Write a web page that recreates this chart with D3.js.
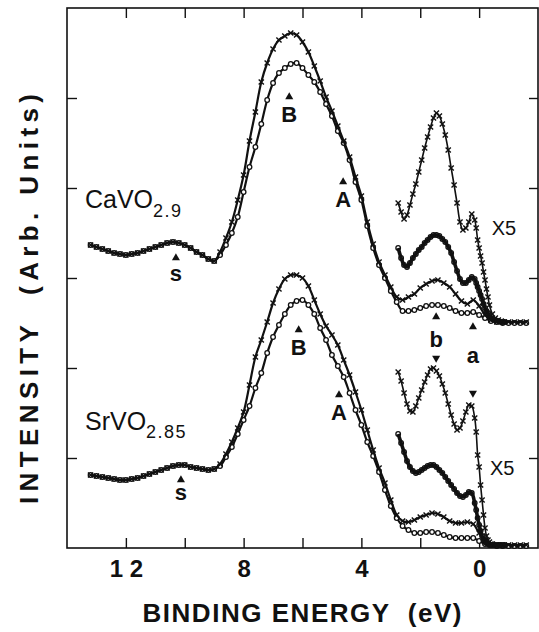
<!DOCTYPE html>
<html>
<head>
<meta charset="utf-8">
<script src="https://cdn.jsdelivr.net/npm/d3@7"></script>
<style>
  body { margin: 0; background: #fff; }
  svg { display: block; font-family: "Liberation Sans", Arial, Helvetica, sans-serif; }
</style>
</head>
<body>
<svg width="539" height="632"></svg>
<script>
// binding energy grid (eV) of the full spectra
const energy = [13.2, 13.0, 12.8, 12.6, 12.4, 12.2, 12.0, 11.8, 11.6, 11.4, 11.2, 11.0, 10.8, 10.6, 10.4, 10.2, 10.0, 9.8, 9.6, 9.4, 9.2, 9.0,
  8.8, 8.6, 8.4, 8.2, 8.0, 7.8, 7.6, 7.4, 7.2, 7.0, 6.8, 6.6, 6.4, 6.2, 6.0, 5.8, 5.6, 5.4, 5.2, 5.0,
  4.8, 4.6, 4.4, 4.2, 4.0, 3.8, 3.6, 3.4, 3.2, 3.0, 2.8, 2.6, 2.4, 2.2, 2.0, 1.8, 1.6, 1.4, 1.2, 1.0,
  0.8, 0.6, 0.4, 0.2, 0.0, -0.2, -0.4, -0.6, -0.8, -1.0, -1.2, -1.4, -1.6];

// CaVO2.9 (offset spectra, arb. units)
const caCross = [303, 301, 299, 297, 295, 294, 293, 294, 295, 297, 299, 301, 303, 305, 306, 305, 303, 300, 296, 293, 289, 287,
  296, 310, 326, 348, 373, 407, 436, 466, 485, 499, 508, 512, 515, 513, 506, 496, 482, 467, 451, 437,
  422, 407, 391, 371, 352, 326, 304, 286, 273, 261, 251, 248, 251, 254, 260, 264, 267, 268, 265, 261,
  254, 247, 244, 248, 242, 233, 228, 226, 226, 226, 226, 226, 226];
const caCircle = [303, 301, 299, 297, 295, 294, 293, 294, 295, 297, 299, 301, 303, 305, 306, 305, 303, 300, 296, 293, 289, 287,
  293, 303, 315, 331, 356, 381, 401, 424, 448, 465, 475, 480, 484, 485, 480, 473, 466, 456, 444, 432,
  417, 405, 388, 366, 348, 322, 300, 283, 270, 257, 246, 237, 237, 238, 240, 242, 243, 243, 242, 240,
  237, 235, 235, 236, 233, 230, 227, 226, 225, 225, 225, 225, 225];

// SrVO2.85
const srCross = [73, 72, 71, 70, 69, 68, 68, 69, 70, 72, 74, 76, 78, 80, 82, 83, 83, 81, 80, 79, 78, 79,
  84, 94, 106, 120, 136, 163, 191, 208, 226, 245, 259, 269, 273, 273, 270, 262, 248, 234, 222, 213,
  203, 188, 173, 156, 138, 118, 98, 80, 65, 48, 33, 27, 26, 28, 31, 33, 35, 34, 31, 27,
  25, 25, 26, 24, 15, 7, 4, 3, 3, 3, 3, 3, 3];
const srCircle = [73, 72, 71, 70, 69, 68, 68, 69, 70, 72, 74, 76, 78, 80, 82, 83, 83, 81, 80, 79, 78, 79,
  82, 91, 101, 114, 128, 142, 160, 175, 195, 211, 223, 234, 243, 247, 248, 243, 234, 220, 208, 193,
  182, 171, 155, 138, 123, 106, 92, 76, 58, 42, 30, 22, 18, 15, 15, 16, 16, 15, 13, 11,
  10, 10, 10, 10, 7, 4, 3, 2, 2, 2, 2, 2, 2];

// near-Fermi-level region, magnified x5
const energyX5 = [2.75, 2.65, 2.55, 2.45, 2.35, 2.25, 2.15, 2.05, 1.95, 1.85, 1.75, 1.65, 1.55, 1.45, 1.35, 1.25, 1.15, 1.05, 0.95, 0.85,
  0.75, 0.65, 0.55, 0.45, 0.35, 0.25, 0.15, 0.10, 0.05, 0.00, -0.05, -0.10, -0.15, -0.20, -0.25, -0.30, -0.35, -0.45, -0.55, -0.65, -0.75, -0.85];
const caCrossX5 = [345, 336, 329, 333, 343, 354, 364, 376, 388, 400, 411, 421, 430, 435, 432, 424, 413, 398, 380, 363,
  345, 326, 318, 320, 326, 334, 328, 320, 308, 300, 292, 285, 276, 268, 259, 251, 243, 234, 230, 228, 227, 226];
const caCircleX5 = [300, 290, 283, 281, 285, 290, 294, 298, 301, 305, 308, 311, 313, 313, 312, 309, 306, 301, 295, 286,
  277, 269, 265, 265, 268, 271, 269, 265, 261, 257, 253, 249, 244, 240, 237, 235, 232, 229, 228, 227, 226, 226];
const srCrossX5 = [176, 167, 155, 144, 137, 136, 142, 150, 158, 166, 173, 179, 180, 177, 172, 164, 155, 144, 133, 124,
  118, 120, 127, 136, 143, 142, 130, 116, 93, 81, 63, 48, 33, 20, 12, 8, 6, 4, 3, 3, 3, 3];
const srCircleX5 = [114, 105, 96, 87, 81, 77, 75, 76, 78, 80, 82, 83, 83, 81, 78, 75, 71, 67, 63, 59,
  55, 52, 51, 53, 56, 55, 45, 38, 30, 23, 17, 12, 8, 6, 5, 4, 3, 3, 3, 3, 3, 3];

// feature markers: label, energy, triangle level, label level, pointing
const markLabels = ["s", "B", "A", "s", "B", "A", "b", "a", "", ""];
const markEnergy = [10.3, 6.45, 4.62, 10.13, 6.13, 4.76, 1.46, 0.21, 1.46, 0.21];
const markLevel = [290, 451, 366, 68, 218, 153, 231, 221, 190, 155];
const markTextLevel = [267, 426, 341, 48, 193, 128, 201, 185, 0, 0];
const markDir = ["up", "up", "up", "up", "up", "up", "up", "up", "down", "down"];

const xTickValues = [12, 10, 8, 6, 4, 2, 0];
const xTickLabels = ["1 2", "", "8", "", "4", "", "0"];
const yTickValues = [90, 180, 270, 360, 450];

const svg = d3.select("svg");
const ink = "#111";

const x = d3.scaleLinear().domain([14, -2]).range([67, 538]);
const y = d3.scaleLinear().domain([0, 540]).range([548, 8]);

// axes (ticks pointing inward on all four sides)
const bottom = svg.append("g")
    .attr("transform", `translate(0,${y(0)})`)
    .call(d3.axisBottom(x).tickValues(xTickValues).tickSizeInner(-10).tickSizeOuter(0)
      .tickFormat((d, i) => xTickLabels[i]));
bottom.selectAll("text")
    .attr("y", 29).attr("dy", null)
    .style("font-size", "24px").style("font-weight", "bold")
    .style("white-space", "pre").attr("fill", ink);

svg.append("g")
    .attr("transform", `translate(0,${y(540)})`)
    .call(d3.axisTop(x).tickValues(xTickValues).tickSizeInner(-10).tickSizeOuter(0).tickFormat(""));
svg.append("g")
    .attr("transform", `translate(${x(14)},0)`)
    .call(d3.axisLeft(y).tickValues(yTickValues).tickSizeInner(-10).tickSizeOuter(0).tickFormat(""));
svg.append("g")
    .attr("transform", `translate(${x(-2)},0)`)
    .call(d3.axisRight(y).tickValues(yTickValues).tickSizeInner(-9).tickSizeOuter(0).tickFormat(""));

svg.selectAll(".domain").remove();
svg.selectAll(".tick line").attr("stroke", ink).attr("stroke-width", 1.4);

svg.append("rect")
    .attr("x", x(14)).attr("y", y(540))
    .attr("width", x(-2) - x(14)).attr("height", y(0) - y(540))
    .attr("fill", "none").attr("stroke", ink).attr("stroke-width", 1.6);

// spectra
const line = d3.line().x(d => x(d[0])).y(d => y(d[1])).curve(d3.curveCatmullRom);
const crossPath = "M-2.6,-2.6L2.6,2.6M-2.6,2.6L2.6,-2.6";
const plot = svg.append("g");

function drawSeries(es, vals, kind, width, r, fill) {
  const pts = es.map((e, i) => [e, vals[i]]);
  plot.append("path").datum(pts)
      .attr("d", line).attr("fill", "none")
      .attr("stroke", ink).attr("stroke-width", width);
  if (kind === "x") {
    plot.append("g").selectAll("path").data(pts).join("path")
        .attr("transform", d => `translate(${x(d[0])},${y(d[1])})`)
        .attr("d", crossPath).attr("stroke", ink).attr("stroke-width", 1.4);
  } else {
    plot.append("g").selectAll("circle").data(pts).join("circle")
        .attr("cx", d => x(d[0])).attr("cy", d => y(d[1])).attr("r", r)
        .attr("fill", fill).attr("stroke", ink).attr("stroke-width", 1.3);
  }
}

drawSeries(energy, caCircle, "o", 2.2, 2.3, "#fff");
drawSeries(energy, caCross, "x", 2.2);
drawSeries(energy, srCircle, "o", 2.2, 2.3, "#fff");
drawSeries(energy, srCross, "x", 2.2);
drawSeries(energyX5, caCircleX5, "o", 3.6, 2.3, "none");
drawSeries(energyX5, caCrossX5, "x", 1.6);
drawSeries(energyX5, srCircleX5, "o", 3.6, 2.3, "none");
drawSeries(energyX5, srCrossX5, "x", 1.6);

// feature triangles and letters
const tri = d3.symbol().type(d3.symbolTriangle).size(28);
markEnergy.forEach((e, i) => {
  svg.append("path")
      .attr("d", tri)
      .attr("transform", `translate(${x(e)},${y(markLevel[i])})${markDir[i] === "down" ? " rotate(180)" : ""}`)
      .attr("fill", ink);
  if (markLabels[i]) {
    svg.append("text")
        .attr("x", x(e)).attr("y", y(markTextLevel[i]))
        .attr("text-anchor", "middle")
        .style("font-size", "22px").style("font-weight", "bold")
        .attr("fill", ink).text(markLabels[i]);
  }
});

// sample names
function sampleName(e, level, base, sub, drop) {
  const t = svg.append("text").attr("x", x(e)).attr("y", y(level))
      .style("font-size", "25px").attr("fill", ink);
  t.append("tspan").text(base);
  t.append("tspan").attr("dy", drop).style("font-size", "18px")
      .style("letter-spacing", "1.5px").text(sub);
}
sampleName(13.39, 340, "CaVO", "2.9", 9);
sampleName(13.39, 118, "SrVO", "2.85", 8);

svg.append("text").attr("x", x(-0.43)).attr("y", y(313))
    .style("font-size", "20px").attr("fill", ink).text("X5");
svg.append("text").attr("x", x(-0.37)).attr("y", y(73))
    .style("font-size", "20px").attr("fill", ink).text("X5");

// axis titles
svg.append("text")
    .attr("x", 302).attr("y", 622)
    .attr("text-anchor", "middle")
    .attr("textLength", 319).attr("lengthAdjust", "spacing")
    .style("font-size", "26px").style("font-weight", "bold").style("white-space", "pre")
    .attr("fill", ink)
    .text("BINDING ENERGY  (eV)");

svg.append("text")
    .attr("transform", "translate(38,299) rotate(-90)")
    .attr("text-anchor", "middle")
    .attr("textLength", 410).attr("lengthAdjust", "spacing")
    .style("font-size", "26px").style("font-weight", "bold").style("white-space", "pre")
    .attr("fill", ink)
    .text("INTENSITY  (Arb. Units)");
</script>
</body>
</html>
